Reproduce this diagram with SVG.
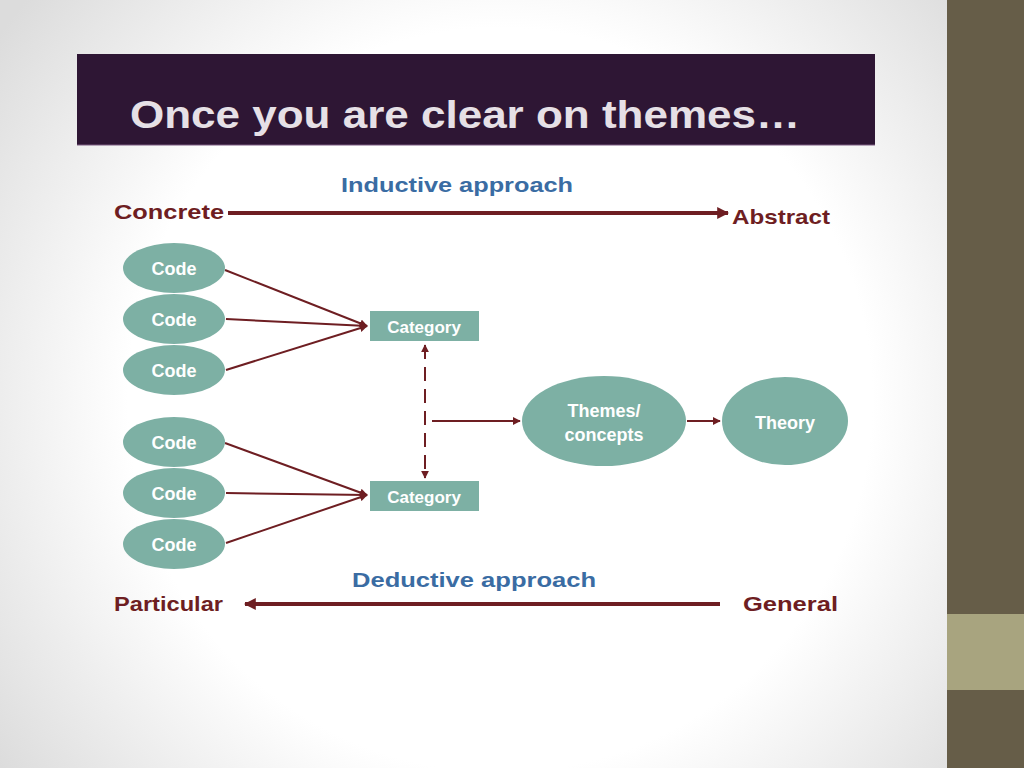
<svg xmlns="http://www.w3.org/2000/svg" width="1024" height="768" viewBox="0 0 1024 768">
<defs>
<radialGradient id="bg" cx="500" cy="400" r="620" gradientUnits="userSpaceOnUse">
<stop offset="0.6" stop-color="#ffffff"/>
<stop offset="1" stop-color="#dcdcdc"/>
</radialGradient>
<marker id="ah" viewBox="0 0 10 10" refX="9" refY="5" markerWidth="4" markerHeight="4" orient="auto-start-reverse" markerUnits="strokeWidth">
<path d="M0,0 L10,5 L0,10 z" fill="#6E1E22"/>
</marker>
<marker id="ahb" viewBox="0 0 10 10" refX="9" refY="5" markerWidth="3" markerHeight="3" orient="auto-start-reverse" markerUnits="strokeWidth">
<path d="M0,0 L10,5 L0,10 z" fill="#6E1E22"/>
</marker>
</defs>
<style>
.node{fill:#7DB0A4}
.lbl{font-family:"Liberation Sans",Arial,sans-serif;font-weight:bold;fill:#ffffff;text-anchor:middle}
.ttl{font-family:"Liberation Sans",Arial,sans-serif;font-weight:bold}
.red{fill:#6E1E22}
.blue{fill:#3A6CA3}
.ln{stroke:#6E1E22;fill:none}
</style>
<rect width="1024" height="768" fill="url(#bg)"/>
<rect x="947" y="0" width="77" height="768" fill="#665D48"/>
<rect x="947" y="614" width="77" height="76" fill="#A8A47F"/>
<rect x="77" y="54" width="798" height="91" fill="#2E1634"/>
<line x1="77" y1="145" x2="875" y2="145" stroke="#7A5A80" stroke-width="1"/>
<text class="ttl" x="130" y="128" font-size="38" fill="#E6E0E6" textLength="670" lengthAdjust="spacingAndGlyphs">Once you are clear on themes…</text>

<g id="labels">
<text class="ttl blue" x="341" y="192" font-size="21" textLength="232" lengthAdjust="spacingAndGlyphs">Inductive approach</text>
<text class="ttl red" x="114" y="219" font-size="21" textLength="110" lengthAdjust="spacingAndGlyphs">Concrete</text>
<text class="ttl red" x="732" y="224" font-size="21" textLength="98" lengthAdjust="spacingAndGlyphs">Abstract</text>
<text class="ttl blue" x="352" y="587" font-size="21" textLength="244" lengthAdjust="spacingAndGlyphs">Deductive approach</text>
<text class="ttl red" x="114" y="611" font-size="21" textLength="109" lengthAdjust="spacingAndGlyphs">Particular</text>
<text class="ttl red" x="743" y="611" font-size="21" textLength="95" lengthAdjust="spacingAndGlyphs">General</text>
</g>

<g id="connectors">
<line class="ln" x1="228" y1="213" x2="728" y2="213" stroke-width="4" marker-end="url(#ahb)"/>
<line class="ln" x1="720" y1="604" x2="245" y2="604" stroke-width="4" marker-end="url(#ahb)"/>
<line class="ln" x1="225" y1="270" x2="367" y2="326" stroke-width="2" marker-end="url(#ah)"/>
<line class="ln" x1="226" y1="319" x2="367" y2="326" stroke-width="2" marker-end="url(#ah)"/>
<line class="ln" x1="226" y1="370" x2="367" y2="326" stroke-width="2" marker-end="url(#ah)"/>
<line class="ln" x1="225" y1="443" x2="367" y2="495" stroke-width="2" marker-end="url(#ah)"/>
<line class="ln" x1="226" y1="493" x2="367" y2="495" stroke-width="2" marker-end="url(#ah)"/>
<line class="ln" x1="226" y1="543" x2="367" y2="495" stroke-width="2" marker-end="url(#ah)"/>
<line class="ln" x1="425" y1="345" x2="425" y2="478" stroke-width="2" stroke-dasharray="14,8" marker-start="url(#ah)" marker-end="url(#ah)"/>
<line class="ln" x1="432" y1="421" x2="520" y2="421" stroke-width="2" marker-end="url(#ah)"/>
<line class="ln" x1="687" y1="421" x2="720" y2="421" stroke-width="2" marker-end="url(#ah)"/>
</g>

<g id="code1"><ellipse class="node" cx="174" cy="268" rx="51" ry="25"/><text class="lbl" x="174" y="275" font-size="18">Code</text></g>
<g id="code2"><ellipse class="node" cx="174" cy="319" rx="51" ry="25"/><text class="lbl" x="174" y="326" font-size="18">Code</text></g>
<g id="code3"><ellipse class="node" cx="174" cy="370" rx="51" ry="25"/><text class="lbl" x="174" y="377" font-size="18">Code</text></g>
<g id="code4"><ellipse class="node" cx="174" cy="442" rx="51" ry="25"/><text class="lbl" x="174" y="449" font-size="18">Code</text></g>
<g id="code5"><ellipse class="node" cx="174" cy="493" rx="51" ry="25"/><text class="lbl" x="174" y="500" font-size="18">Code</text></g>
<g id="code6"><ellipse class="node" cx="174" cy="544" rx="51" ry="25"/><text class="lbl" x="174" y="551" font-size="18">Code</text></g>
<g id="category1"><rect class="node" x="370" y="311" width="109" height="30"/><text class="lbl" x="424" y="333" font-size="17">Category</text></g>
<g id="category2"><rect class="node" x="370" y="481" width="109" height="30"/><text class="lbl" x="424" y="503" font-size="17">Category</text></g>
<g id="themes"><ellipse class="node" cx="604" cy="421" rx="82" ry="45"/><text class="lbl" x="604" y="417" font-size="18">Themes/</text><text class="lbl" x="604" y="441" font-size="18">concepts</text></g>
<g id="theory"><ellipse class="node" cx="785" cy="421" rx="63" ry="44"/><text class="lbl" x="785" y="429" font-size="18">Theory</text></g>
</svg>
